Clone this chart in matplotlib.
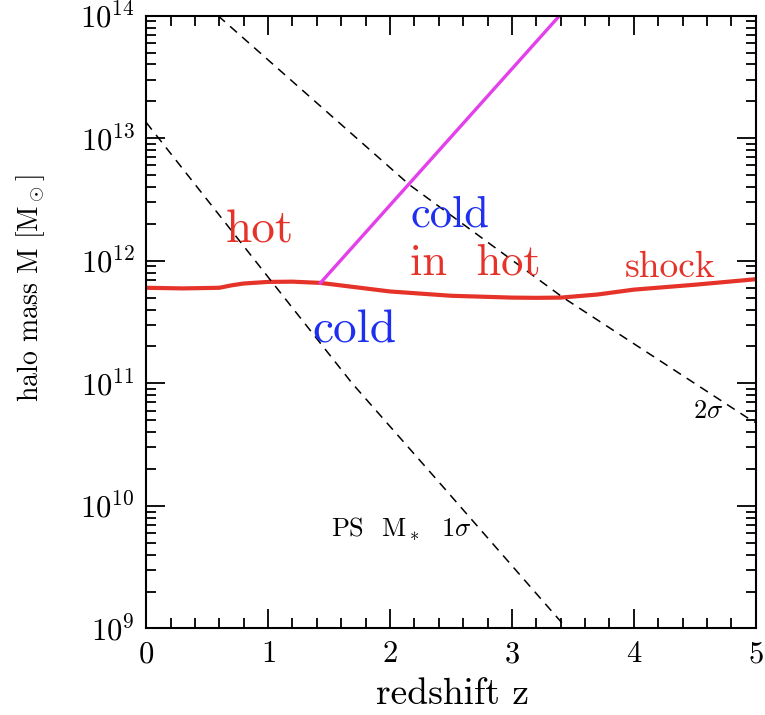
import matplotlib
matplotlib.use('Agg')
import matplotlib.pyplot as plt
import numpy as np
from matplotlib.ticker import MultipleLocator, LogLocator, NullFormatter

plt.rcParams['font.family'] = ['cmr10', 'DejaVu Serif']
plt.rcParams['mathtext.fontset'] = 'cm'
plt.rcParams['axes.formatter.use_mathtext'] = True

# shock-heating threshold (red)
z_shock = [0.0, 0.3, 0.6, 0.7, 0.8, 1.0, 1.2, 1.43, 2.0, 2.5, 3.0, 3.2, 3.4, 3.7, 4.0, 4.5, 5.0]
logm_shock = [11.78, 11.775, 11.78, 11.80, 11.815, 11.828, 11.83, 11.82, 11.75, 11.715,
              11.70, 11.698, 11.70, 11.725, 11.765, 11.805, 11.85]

# cold-in-hot boundary (magenta)
z_cih = [1.43, 3.39]
logm_cih = [11.82, 14.0]

# Press-Schechter M* curves (dashed)
z_1sig = [0.0, 1.03, 1.69, 2.37, 3.45]
logm_1sig = [13.13, 11.83, 11.0, 10.23, 9.0]
z_2sig = [0.59, 2.16, 3.42, 4.93, 5.0]
logm_2sig = [14.0, 12.62, 11.70, 10.72, 10.68]

red = '#e5332a'
blue = '#1f2ff0'
magenta = '#e340ec'

fig = plt.figure(figsize=(7.65, 7.15), dpi=100)
ax = fig.add_axes([0.191, 0.121, 0.797, 0.857])

ax.plot(z_shock, 10**np.array(logm_shock), color=red, lw=3.0, solid_capstyle='butt')
ax.plot(z_cih, 10**np.array(logm_cih), color=magenta, lw=2.4)
ax.plot(z_1sig, 10**np.array(logm_1sig), color='black', lw=1.1, dashes=(6, 4.5))
ax.plot(z_2sig, 10**np.array(logm_2sig), color='black', lw=1.1, dashes=(6, 4.5))

ax.set_yscale('log')
ax.set_xlim(0, 5)
ax.set_ylim(1e9, 1e14)

ax.xaxis.set_major_locator(MultipleLocator(1))
ax.xaxis.set_minor_locator(MultipleLocator(0.2))
ax.yaxis.set_major_locator(LogLocator(base=10, numticks=10))
ax.yaxis.set_minor_locator(LogLocator(base=10, subs=np.arange(2, 10), numticks=20))
ax.yaxis.set_minor_formatter(NullFormatter())

ax.tick_params(which='both', direction='in', top=True, right=True, width=1.3, labelsize=22)
ax.tick_params(axis='x', pad=9)
ax.tick_params(axis='y', pad=8)
ax.tick_params(which='major', length=14)
ax.tick_params(which='minor', length=7)
for s in ax.spines.values():
    s.set_linewidth(1.5)

ax.set_xlabel('redshift z', fontsize=27)
ax.xaxis.set_label_coords(0.503, -0.108)
ax.xaxis.label.set_verticalalignment('center')
ax.set_ylabel(r'halo mass M [M$_\odot$]', fontsize=20)
ax.yaxis.set_label_coords(-0.19, 0.555)
ax.yaxis.label.set_verticalalignment('center')

ax.text(0.93, 10**12.25, 'hot', color=red, fontsize=34, ha='center', va='center')
ax.text(2.49, 10**12.37, 'cold', color=blue, fontsize=32, ha='center', va='center')
ax.text(2.70, 10**11.98, 'in  hot', color=red, fontsize=32, ha='center', va='center')
ax.text(4.30, 10**11.95, 'shock', color=red, fontsize=27, ha='center', va='center')
ax.text(1.71, 10**11.43, 'cold', color=blue, fontsize=34, ha='center', va='center')
ax.text(2.09, 10**9.81, r'PS  M$_*$  1$\sigma$', color='black', fontsize=19, ha='center', va='center')
ax.text(4.61, 10**10.77, r'2$\sigma$', color='black', fontsize=19, ha='center', va='center')

fig.savefig('out.png', dpi=100)
